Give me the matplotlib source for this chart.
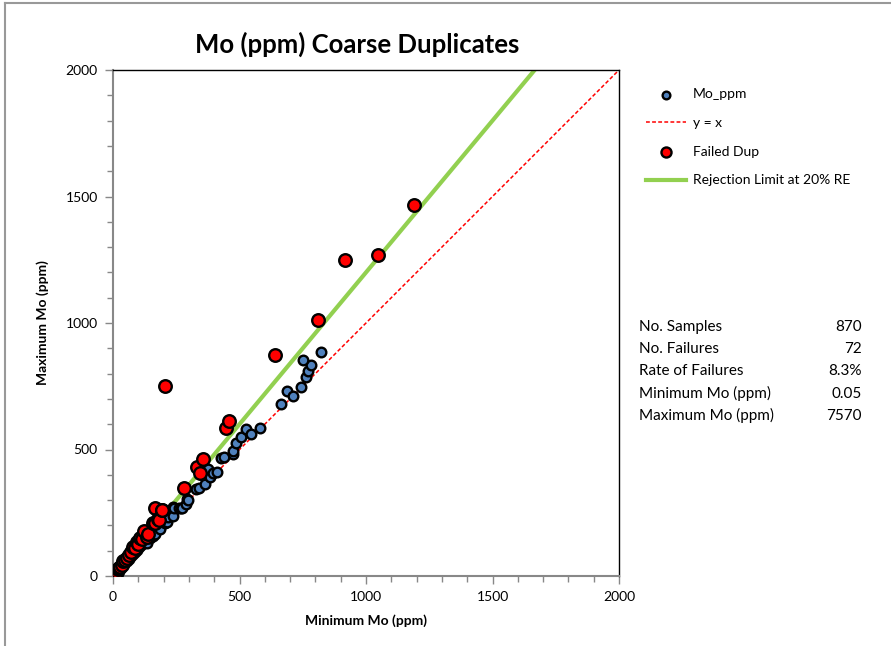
import numpy as np
import matplotlib
matplotlib.use("Agg")
import matplotlib.pyplot as plt
from matplotlib.lines import Line2D
from matplotlib.ticker import MultipleLocator

plt.rcParams['font.family'] = ['Lato', 'DejaVu Sans']

# duplicate pairs that pass (min, max) in ppm
pass_min = [1, 2, 4, 5, 8, 10, 12, 15, 18, 20, 25, 30, 36, 42, 48, 55, 62, 70, 78,
            86, 95, 104, 112, 120, 133, 146, 158, 166, 186, 206, 212, 219, 236, 238,
            241, 260, 269, 272, 289, 294, 298, 330, 341, 364, 377, 383, 396, 412,
            425, 438, 473, 476, 485, 507, 526, 544, 581, 664, 689, 713, 743, 763,
            771, 783, 751, 822]
pass_max = [1, 3, 5, 6, 10, 11, 14, 18, 20, 23, 29, 34, 41, 47, 54, 61, 69, 78, 86,
            95, 104, 114, 122, 131, 129, 149, 160, 165, 185, 208, 215, 234, 237, 274,
            270, 268, 268, 268, 285, 303, 300, 343, 347, 364, 422, 390, 408, 412,
            468, 470, 482, 495, 524, 551, 580, 561, 584, 679, 732, 713, 748, 787,
            810, 834, 854, 885]

# pairs exceeding the 20% relative error limit
fail_min = [1, 3, 5, 8, 11, 15, 18, 22, 28, 34, 40, 48, 54, 62, 71, 80, 88, 93, 100,
            107, 115, 124, 133, 140, 159, 166, 167, 179, 182, 192, 195, 206, 281, 331,
            344, 355, 447, 458, 640, 810, 917, 1047, 1190]
fail_max = [4, 6, 9, 12, 17, 17, 26, 30, 34, 45, 59, 63, 70, 83, 96, 116, 110, 136,
            125, 149, 145, 179, 155, 166, 211, 269, 208, 224, 221, 261, 261, 751, 349,
            432, 408, 461, 585, 612, 874, 1012, 1249, 1269, 1466]

axis_range = [0, 2000]
rejection_factor = 1.2

stat_names = ["No. Samples", "No. Failures", "Rate of Failures",
              "Minimum Mo (ppm)", "Maximum Mo (ppm)"]
stat_values = ["870", "72", "8.3%", "0.05", "7570"]

fig = plt.figure(figsize=(8.91, 6.46), dpi=100)
ax = fig.add_axes([113 / 891, 1 - 576 / 646, 506 / 891, 506 / 646])

ax.scatter(pass_min, pass_max, s=48, c="#4f81bd", edgecolors="black",
           linewidths=1.7, zorder=3, label="Mo_ppm")
ax.plot(axis_range, axis_range, color="red", ls=(0, (2.5, 1.5)), lw=1.1,
        zorder=2, label="y = x")
ax.scatter(fail_min, fail_max, s=82, c="red", edgecolors="black",
           linewidths=1.7, zorder=4, label="Failed Dup")
lim_x = np.array(axis_range)
ax.plot(lim_x, lim_x * rejection_factor, color="#92d050", lw=3, zorder=2,
        label="Rejection Limit at 20% RE")

ax.set_xlim(axis_range)
ax.set_ylim(axis_range)
ax.xaxis.set_major_locator(MultipleLocator(500))
ax.yaxis.set_major_locator(MultipleLocator(500))
ax.xaxis.set_minor_locator(MultipleLocator(100))
ax.yaxis.set_minor_locator(MultipleLocator(100))
ax.tick_params(which="major", direction="out", length=6, width=1,
               color="#888888", labelsize=10, pad=5)
ax.tick_params(which="minor", direction="out", length=4, width=1,
               color="#888888")
for side in ["top", "right"]:
    ax.spines[side].set_color("black")
    ax.spines[side].set_linewidth(1)
for side in ["left", "bottom"]:
    ax.spines[side].set_color("#888888")
    ax.spines[side].set_linewidth(1.5)

ax.set_xlabel("Minimum Mo (ppm)", fontsize=10, fontweight="bold", labelpad=8)
ax.set_ylabel("Maximum Mo (ppm)", fontsize=10, fontweight="bold", labelpad=12)
fig.text(357 / 891, 1 - 44 / 646, "Mo (ppm) Coarse Duplicates", fontsize=18.5,
         fontweight="bold", ha="center", va="center")

handles, labels = ax.get_legend_handles_labels()
order = [labels.index(n) for n in ["Mo_ppm", "y = x", "Failed Dup",
                                   "Rejection Limit at 20% RE"]]
fig.legend([handles[i] for i in order], [labels[i] for i in order],
           loc="upper left", bbox_to_anchor=(633 / 891, 1 - 76 / 646),
           frameon=False, fontsize=10, handlelength=2.9, labelspacing=1.2,
           scatterpoints=1, markerscale=0.8, handletextpad=0.5)

for i, (name, val) in enumerate(zip(stat_names, stat_values)):
    y = 1 - (327 + i * 22.2) / 646
    fig.text(639 / 891, y, name, fontsize=11, ha="left", va="center")
    fig.text(862 / 891, y, val, fontsize=11, ha="right", va="center")

# chart frame edges
fig.add_artist(Line2D([5 / 891, 1], [1 - 3 / 646, 1 - 3 / 646],
                      color="#999999", lw=1.5))
fig.add_artist(Line2D([5 / 891, 5 / 891], [0, 1 - 3 / 646],
                      color="#999999", lw=1.5))

fig.savefig("out.png", dpi=100)
